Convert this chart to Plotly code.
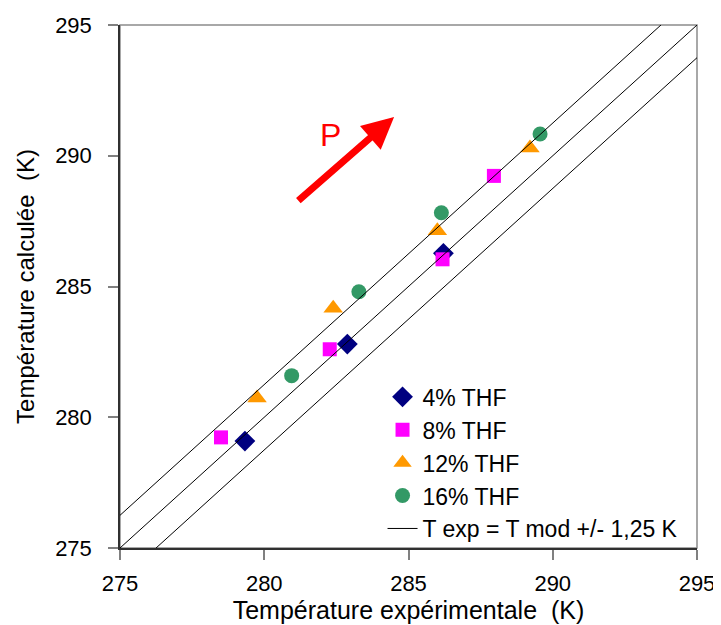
import plotly.graph_objects as go

# Data (Température expérimentale vs Température calculée, K)
x_4 = [279.33, 282.88, 286.21]
y_4 = [279.09, 282.80, 286.27]

x_8 = [278.50, 282.27, 286.18, 287.96]
y_8 = [279.23, 282.60, 286.04, 289.23]

x_12 = [279.75, 282.39, 286.00, 289.21]
y_12 = [280.74, 284.17, 287.13, 290.30]

x_16 = [280.95, 283.28, 286.14, 289.56]
y_16 = [281.59, 284.80, 287.82, 290.83]

# reference lines T exp = T mod +/- 1.25 K
offset = 1.25
line_x = [275, 295]

tick_vals = [275, 280, 285, 290, 295]

FONT = "Liberation Sans, Arial, sans-serif"

fig = go.Figure()

fig.add_trace(go.Scatter(x=x_4, y=y_4, mode="markers", name="4% THF",
                         marker=dict(symbol="diamond", color="#000080", size=16)))
fig.add_trace(go.Scatter(x=x_8, y=y_8, mode="markers", name="8% THF",
                         marker=dict(symbol="square", color="#FF00FF", size=14)))
fig.add_trace(go.Scatter(x=x_12, y=y_12, mode="markers", name="12% THF",
                         marker=dict(symbol="triangle-up", color="#FF9900", size=17)))
fig.add_trace(go.Scatter(x=x_16, y=y_16, mode="markers", name="16% THF",
                         marker=dict(symbol="circle", color="#339966", size=15)))

lx, ly = [], []
for d in (offset, 0, -offset):
    lx += [line_x[0], line_x[1], None]
    ly += [line_x[0] + d, line_x[1] + d, None]
fig.add_trace(go.Scatter(x=lx, y=ly, mode="lines", name="T exp = T mod +/- 1,25 K",
                         line=dict(color="black", width=1), connectgaps=False))

# arrow P
fig.add_annotation(x=284.5, y=291.48, ax=281.13, ay=288.23, xref="x", yref="y",
                   axref="x", ayref="y", showarrow=True, arrowhead=2, arrowsize=0.9,
                   arrowwidth=7, arrowcolor="#FF0000", text="")
fig.add_annotation(x=282.3, y=290.8, xref="x", yref="y", text="P", showarrow=False,
                   font=dict(family=FONT, size=32, color="#FF0000"))

# plot-area frame (top/right in grey)
fig.add_shape(type="rect", xref="paper", yref="paper", x0=0, x1=1, y0=0, y1=1,
              line=dict(color="#8c8c8c", width=1.5), layer="below")

axis_common = dict(range=[275, 295], tickvals=tick_vals, showgrid=False, zeroline=False,
                   ticks="outside", ticklen=10, tickcolor="#808080", tickwidth=1.5,
                   tickfont=dict(family=FONT, size=22, color="black"),
                   showline=True, linecolor="#303030", linewidth=1.5, mirror=False,
                   automargin=False)

# the page body adds an 8px offset, so the figure is sized 8px smaller
fig.update_layout(
    width=713, height=617,
    margin=dict(l=112, r=24, t=17, b=77),
    paper_bgcolor="white", plot_bgcolor="white",
    font=dict(family=FONT, size=22, color="black"),
    xaxis=dict(axis_common, ticklabelstandoff=5,
               title=dict(text="Température expérimentale  (K)",
                          font=dict(family=FONT, size=25), standoff=2)),
    yaxis=dict(axis_common, ticklabelstandoff=12,
               title=dict(text="Température calculée  (K)",
                          font=dict(family=FONT, size=24), standoff=14)),
    showlegend=True,
    legend=dict(x=0.455, y=0.33, xanchor="left", yanchor="top", bgcolor="rgba(0,0,0,0)",
                font=dict(family=FONT, size=23), tracegroupgap=0, itemwidth=30),
)

fig.write_html("out.html")
